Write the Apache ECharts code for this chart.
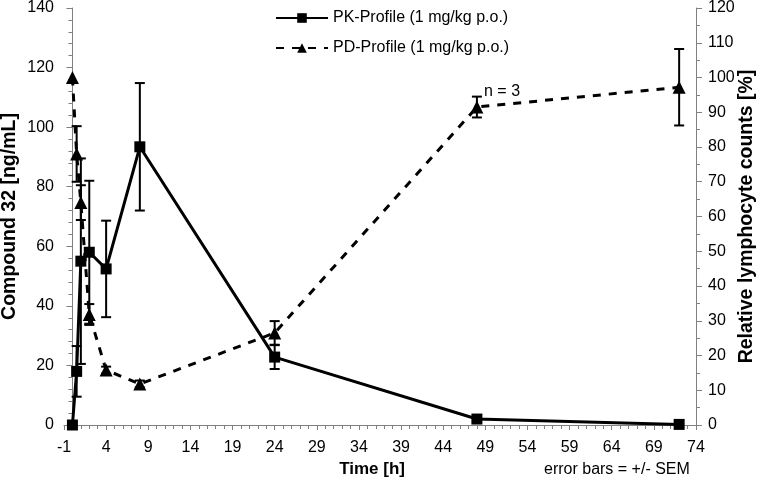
<!DOCTYPE html>
<html>
<head>
<meta charset="utf-8">
<script src="https://cdn.jsdelivr.net/npm/echarts@6/dist/echarts.min.js"></script>
<style>html,body{margin:0;padding:0;background:#fff}#c{width:764px;height:477px}</style>
</head>
<body>
<div id="c"></div>
<script>
// Time points [h]
var pkTime = [0, 0.5, 1, 2, 4, 8, 24, 48, 72];
var pkValue = [0, 18, 55, 58, 52.4, 93.4, 22.8, 2, 0.2];
var pkSem = [0, 8.5, 34.5, 24, 16.2, 21.4, 4, 0.8, 0];

var pdTime = [0, 0.5, 1, 2, 4, 8, 24, 48, 72];
var pdValue = [100, 78, 64, 31.8, 15.8, 11.8, 26.5, 91.5, 97.2];
var pdSem = [0, 8, 5, 3, 1, 1, 3.4, 3, 11];

var xTicks = {min: -1, max: 74, interval: 5};
var leftTicks = {min: 0, max: 140, interval: 20};
var rightTicks = {min: 0, max: 120, interval: 10};

var FONT = 'Liberation Sans, Arial, sans-serif';

function pairs(xs, ys){ return xs.map(function(x,i){return [x, ys[i]];}); }
function errs(xs, ys, es){
  var out = [];
  xs.forEach(function(x,i){ if (es[i] > 0) out.push([x, ys[i]-es[i], ys[i]+es[i]]); });
  return out;
}

function errRender(params, api){
  var x = api.value(0), lo = api.value(1), hi = api.value(2);
  var p1 = api.coord([x, lo]), p2 = api.coord([x, hi]);
  var w = 5;
  var st = {stroke: '#000', lineWidth: 2};
  return {type: 'group', children: [
    {type:'line', shape:{x1:p1[0], y1:p1[1], x2:p2[0], y2:p2[1]}, style: st},
    {type:'line', shape:{x1:p1[0]-w, y1:p1[1], x2:p1[0]+w, y2:p1[1]}, style: st},
    {type:'line', shape:{x1:p2[0]-w, y1:p2[1], x2:p2[0]+w, y2:p2[1]}, style: st}
  ]};
}

var chart = echarts.init(document.getElementById('c'), null, {renderer: 'canvas'});
var axisLine = {show: true, lineStyle: {color: '#808080', width: 1}};
var labelStyle = {color: '#000', fontSize: 16, fontFamily: FONT};

chart.setOption({
  animation: false,
  backgroundColor: '#fff',
  grid: {left: 64, right: 68, top: 8, bottom: 52, containLabel: false, outerBoundsMode: 'none'},
  legend: {
    orient: 'vertical', left: 270, top: 5,
    itemWidth: 52, itemHeight: 12, itemGap: 14,
    textStyle: {fontSize: 16, fontFamily: FONT, color: '#000'},
    data: ['PK-Profile (1 mg/kg p.o.)', 'PD-Profile (1 mg/kg p.o.)']
  },
  xAxis: {
    type: 'value', min: xTicks.min, max: xTicks.max, interval: xTicks.interval,
    axisLine: axisLine,
    axisTick: {show: true, length: 5, lineStyle: {color: '#808080'}},
    minorTick: {show: true, splitNumber: 5, length: 4, lineStyle: {color: '#808080'}},
    splitLine: {show: false},
    axisLabel: Object.assign({margin: 15}, labelStyle)
  },
  yAxis: [{
    type: 'value', min: leftTicks.min, max: leftTicks.max, interval: leftTicks.interval,
    position: 'left',
    name: 'Compound 32 [ng/mL]', nameLocation: 'middle', nameGap: 44, nameMoveOverlap: false,
    nameTextStyle: {fontSize: 19.5, fontWeight: 'bold', fontFamily: FONT, color: '#000'},
    axisLine: axisLine,
    axisTick: {show: true, length: 6, lineStyle: {color: '#808080'}},
    minorTick: {show: true, splitNumber: 5, length: 4, lineStyle: {color: '#808080'}},
    splitLine: {show: false},
    axisLabel: Object.assign({margin: 10}, labelStyle)
  }, {
    type: 'value', min: rightTicks.min, max: rightTicks.max, interval: rightTicks.interval,
    position: 'right',
    name: 'Relative lymphocyte counts [%]', nameLocation: 'middle', nameGap: 41, nameMoveOverlap: false,
    nameTextStyle: {fontSize: 19.5, fontWeight: 'bold', fontFamily: FONT, color: '#000'},
    axisLine: axisLine,
    axisTick: {show: true, length: 6, lineStyle: {color: '#808080'}},
    minorTick: {show: true, splitNumber: 2, length: 4, lineStyle: {color: '#808080'}},
    splitLine: {show: false},
    axisLabel: Object.assign({margin: 12}, labelStyle)
  }],
  graphic: [
    {type: 'text', right: 764 - 405, top: 461, style: {text: 'Time [h]', font: 'bold 17px ' + FONT, fill: '#000'}},
    {type: 'text', left: 544, top: 462, style: {text: 'error bars = +/- SEM', font: '16px ' + FONT, fill: '#000'}},
    {type: 'text', left: 484, top: 84, style: {text: 'n = 3', font: '16px ' + FONT, fill: '#000'}}
  ],
  series: [
    {
      name: 'PK-Profile (1 mg/kg p.o.)', type: 'line', yAxisIndex: 0,
      data: pairs(pkTime, pkValue),
      symbol: 'rect', symbolSize: 11, showSymbol: true,
      lineStyle: {color: '#000', width: 3},
      itemStyle: {color: '#000'}, z: 3
    },
    {
      name: 'PD-Profile (1 mg/kg p.o.)', type: 'line', yAxisIndex: 1,
      data: pairs(pdTime, pdValue),
      smooth: false,
      symbol: 'triangle', symbolSize: 13,
      lineStyle: {color: '#000', width: 3, type: [8, 8]},
      itemStyle: {color: '#000'}, z: 3
    },
    {
      type: 'custom', yAxisIndex: 0, renderItem: errRender,
      data: errs(pkTime, pkValue, pkSem), encode: {x: 0, y: [1, 2]}, z: 4, silent: true
    },
    {
      type: 'custom', yAxisIndex: 1, renderItem: errRender,
      data: errs(pdTime, pdValue, pdSem), encode: {x: 0, y: [1, 2]}, z: 4, silent: true
    }
  ]
});
</script>
</body>
</html>
